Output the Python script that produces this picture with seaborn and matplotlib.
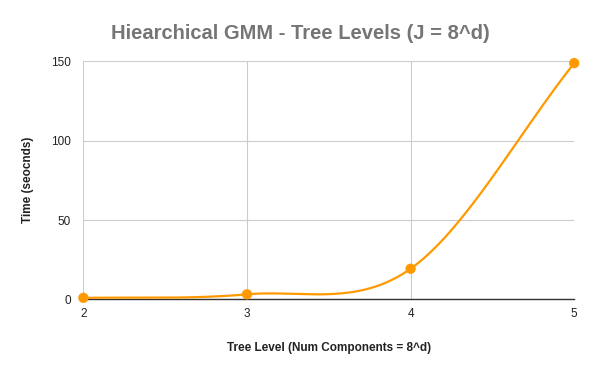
import numpy as np
import pandas as pd
import matplotlib
matplotlib.use("Agg")
import matplotlib.pyplot as plt
import seaborn as sns

# Data
tree_levels = [2, 3, 4, 5]
times = [1.0, 3.2, 19.3, 148.8]
y_ticks = [0, 50, 100, 150]

line_color = "#FF9900"

sns.set_theme(style="white")
plt.rcParams["font.family"] = ["Liberation Sans", "DejaVu Sans"]

df = pd.DataFrame({"level": tree_levels, "time": times})


# Smooth curve through the points (cardinal spline, like the Sheets "smooth" option)
def smooth_curve(x, y, n=60, tension=0.5):
    x = np.asarray(x, float)
    y = np.asarray(y, float)
    m = np.zeros_like(y)
    m[1:-1] = tension * 2 * (y[2:] - y[:-2]) / (x[2:] - x[:-2])
    m[0] = (y[1] - y[0]) / (x[1] - x[0]) * 0.5
    m[-1] = (y[-1] - y[-2]) / (x[-1] - x[-2])
    xs, ys = [], []
    for i in range(len(x) - 1):
        h = x[i + 1] - x[i]
        t = np.linspace(0, 1, n)
        h00 = 2 * t**3 - 3 * t**2 + 1
        h10 = t**3 - 2 * t**2 + t
        h01 = -2 * t**3 + 3 * t**2
        h11 = t**3 - t**2
        xs.append(x[i] + t * h)
        ys.append(h00 * y[i] + h10 * h * m[i] + h01 * y[i + 1] + h11 * h * m[i + 1])
    return np.concatenate(xs), np.concatenate(ys)


sx, sy = smooth_curve(df["level"], df["time"])
curve = pd.DataFrame({"level": sx, "time": sy})

fig = plt.figure(figsize=(6, 3.71), dpi=100)
ax = fig.add_axes([0.139, 0.193, 0.818, 0.642])

sns.lineplot(data=curve, x="level", y="time", color=line_color, linewidth=1.6,
             sort=False, ax=ax, zorder=3)
sns.scatterplot(data=df, x="level", y="time", color=line_color, s=55,
                edgecolor="none", ax=ax, zorder=4, clip_on=False)

ax.set_xlim(2, 5)
ax.set_ylim(0, 150)
ax.set_xticks(tree_levels)
ax.set_yticks(y_ticks)
ax.grid(True, color="#cccccc", linewidth=0.8)
for side in ["top", "right", "left"]:
    ax.spines[side].set_visible(False)
ax.spines["bottom"].set_color("#333333")
ax.spines["bottom"].set_linewidth(1.0)
ax.tick_params(axis="both", length=0, labelsize=8.5, colors="#222222")
ax.tick_params(axis="x", pad=6)
ax.tick_params(axis="y", pad=9)

ax.set_xlabel("Tree Level (Num Components = 8^d)", fontsize=8.5,
              fontweight="bold", color="#222222", labelpad=16)
ax.set_ylabel("Time (seocnds)", fontsize=8.5, fontweight="bold",
              color="#222222", labelpad=12)
fig.suptitle("Hiearchical GMM - Tree Levels (J = 8^d)", x=0.5, y=0.935,
             fontsize=14.5, fontweight="bold", color="#757575")

fig.savefig("out.png", dpi=100)
plt.close(fig)
